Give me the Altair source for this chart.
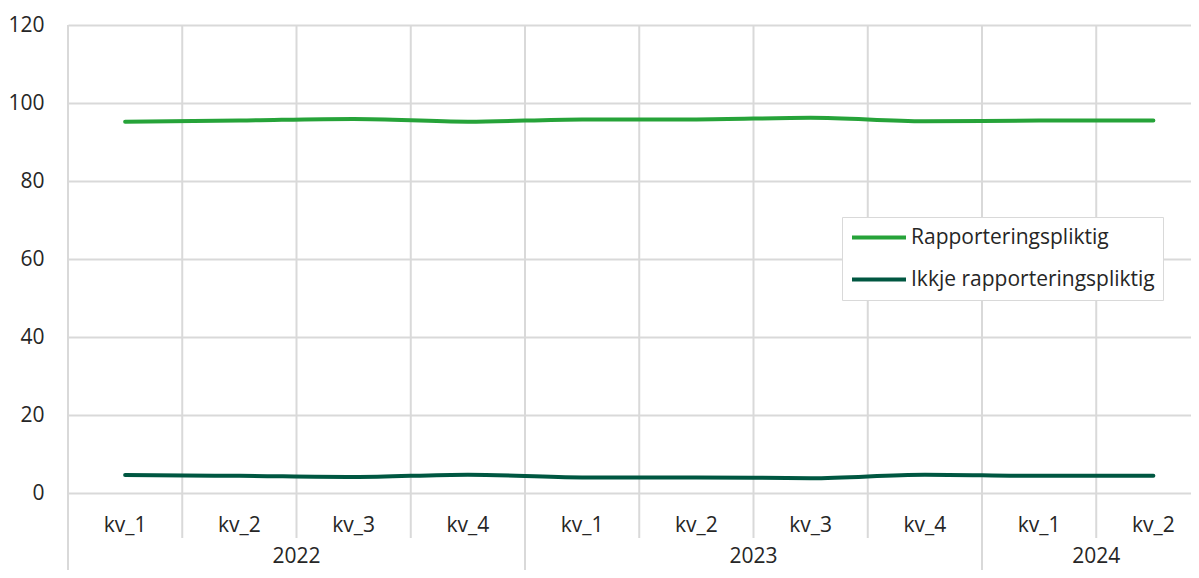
import altair as alt
import pandas as pd

quarters = ["kv_1", "kv_2", "kv_3", "kv_4", "kv_1", "kv_2", "kv_3", "kv_4", "kv_1", "kv_2"]
years = ["2022", "2022", "2022", "2022", "2023", "2023", "2023", "2023", "2024", "2024"]
series_names = ["Rapporteringspliktig", "Ikkje rapporteringspliktig"]
rapporteringspliktig = [95.2, 95.5, 95.9, 95.2, 95.8, 95.8, 96.2, 95.3, 95.5, 95.5]
ikkje_rapporteringspliktig = [4.6, 4.4, 4.1, 4.7, 4.0, 4.0, 3.8, 4.7, 4.4, 4.4]
colors = ["#26a339", "#005741"]
y_ticks = [0, 20, 40, 60, 80, 100, 120]

GRID = "#d9d9d9"
TEXT = "#262626"
FONT = "Open Sans"
FS = 21
W, H = 1123, 468
X_MAX = W / 114.25

# long table of lines
rows = []
for name, vals in zip(series_names, [rapporteringspliktig, ikkje_rapporteringspliktig]):
    for i, v in enumerate(vals):
        rows.append({"pos": i + 0.5, "serie": name, "verdi": v, "order": i})
lines_df = pd.DataFrame(rows)

quarter_df = pd.DataFrame({"pos": [i + 0.5 for i in range(len(quarters))], "label": quarters})
bounds_df = pd.DataFrame({"pos": list(range(len(quarters)))})

year_start = [i for i in range(len(years)) if i == 0 or years[i] != years[i - 1]]
year_df = pd.DataFrame({
    "year": [years[i] for i in year_start],
    "pos": [(s + (year_start[k + 1] if k + 1 < len(year_start) else len(years))) / 2
            for k, s in enumerate(year_start)],
})
year_bounds_df = pd.DataFrame({"pos": year_start})

xscale = alt.Scale(domain=[0, X_MAX], nice=False, zero=False)
yscale = alt.Scale(domain=[0, 120], nice=False)

vgrid = alt.Chart(bounds_df).mark_rule(color=GRID, strokeWidth=2).encode(
    x=alt.X("pos:Q", scale=xscale, axis=None),
    y=alt.value(0),
    y2=alt.value(H + 45),
)
ygrid_ext = alt.Chart(year_bounds_df).mark_rule(color=GRID, strokeWidth=2).encode(
    x=alt.X("pos:Q", scale=xscale, axis=None),
    y=alt.value(H + 45),
    y2=alt.value(H + 120),
)

lines = alt.Chart(lines_df).mark_line(strokeWidth=4, strokeCap="round", interpolate="monotone").encode(
    x=alt.X("pos:Q", scale=xscale, axis=None),
    y=alt.Y("verdi:Q", scale=yscale,
            axis=alt.Axis(values=y_ticks, title=None, ticks=False, domain=False, grid=True,
                          gridColor=GRID, gridWidth=2, labelFontSize=FS, labelColor=TEXT,
                          labelFont=FONT, labelPadding=24)),
    color=alt.Color("serie:N", scale=alt.Scale(domain=series_names, range=colors),
                    legend=alt.Legend(title=None, orient="none", legendX=774, legendY=192,
                                      strokeColor=GRID, fillColor="white", padding=8,
                                      symbolType="stroke", symbolSize=2916, symbolStrokeWidth=4,
                                      symbolOffset=0, clipHeight=25, rowPadding=17,
                                      labelFontSize=FS, labelFont=FONT, labelColor=TEXT,
                                      labelOffset=3, labelLimit=400)),
    order="order:Q",
)

qlabels = alt.Chart(quarter_df).mark_text(fontSize=FS, font=FONT, color=TEXT, baseline="middle").encode(
    x=alt.X("pos:Q", scale=xscale, axis=None),
    y=alt.value(H + 33),
    text="label:N",
)
ylabels = alt.Chart(year_df).mark_text(fontSize=FS, font=FONT, color=TEXT, baseline="alphabetic").encode(
    x=alt.X("pos:Q", scale=xscale, axis=None),
    y=alt.value(H + 70),
    text="year:N",
)

chart = alt.layer(vgrid, ygrid_ext, lines, qlabels, ylabels).properties(
    width=W, height=H,
    padding={"left": 60, "top": 17, "right": 0, "bottom": 77},
    autosize=alt.AutoSizeParams(type="none"),
).configure_view(stroke=None).configure(font=FONT)

chart.save("out.html", embed_options={"renderer": "svg", "actions": False})
